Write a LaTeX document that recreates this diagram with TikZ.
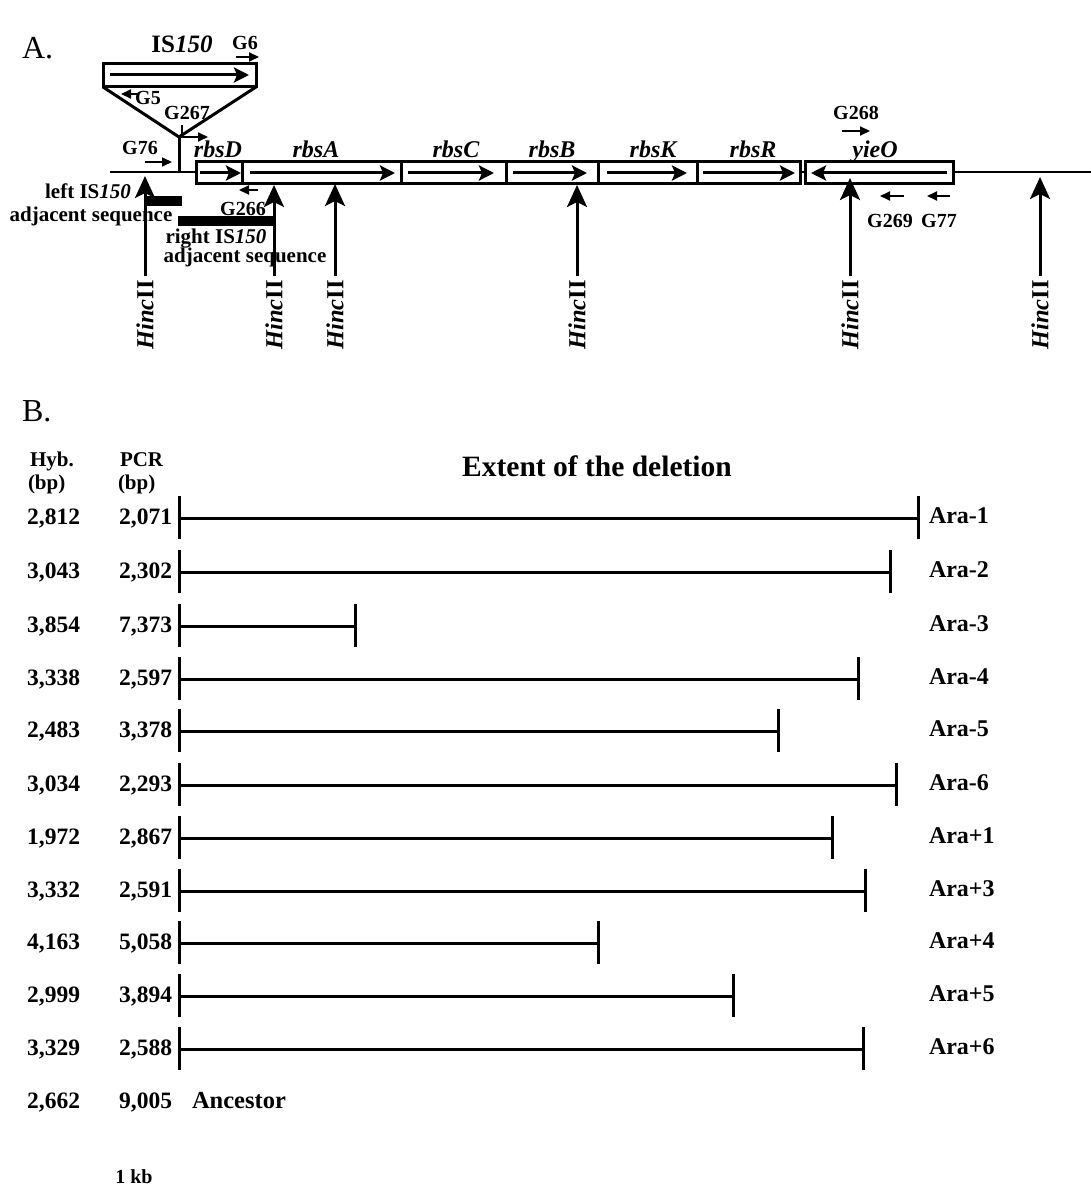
\documentclass[tikz,border=0pt]{standalone}
\usepackage{fontspec}
\setmainfont{Liberation Serif}
\usetikzlibrary{arrows.meta}
\newcommand{\fsz}[1]{\fontsize{#1}{#1}\selectfont}
\begin{document}
\begin{tikzpicture}[x=1pt,y=-1pt,
  every node/.style={inner sep=0pt, outer sep=0pt},
  sec/.style={font=\fsz{32}, anchor=base west},
  gl/.style={font=\fsz{20}\bfseries, anchor=base},
  adj/.style={font=\fsz{21}\bfseries, anchor=base},
  gene/.style={font=\fsz{24}\bfseries\itshape, anchor=base},
  hinc/.style={font=\fsz{24.5}\bfseries, rotate=90},
  gbox/.style={draw, line width=3pt, fill=white},
  garrow/.style={line width=3pt, -{Stealth[length=15pt,width=15pt,inset=3pt]}},
  hcut/.style={line width=3pt, -{Stealth[length=22pt,width=20pt,inset=5pt]}},
  primer/.style={line width=2pt, -{Triangle[length=10pt,width=9pt]}},
  chrom/.style={line width=2.6pt},
  rowline/.style={line width=3pt},
  tickline/.style={line width=3pt},
  num/.style={font=\fsz{23.5}\bfseries, anchor=base east},
  ara/.style={font=\fsz{24}\bfseries, anchor=base west},
  hdr/.style={font=\fsz{21}\bfseries, anchor=base west},
]
\useasboundingbox (0,0) rectangle (1091,1201);

% ---------------- Section A ----------------
\node[sec] (secA) at (22,59) {A.};

\coordinate (L0) at (110,172);
\coordinate (R0) at (1091,172);
\draw[chrom] (L0) -- (R0);

% IS150 insertion
\draw[gbox] (103,64) rectangle (256,87);
\coordinate (isa) at (110,75);
\coordinate (isb) at (249,75);
\draw[garrow] (isa) -- (isb);
\coordinate (triL) at (103,87);
\coordinate (triR) at (256,87);
\coordinate (apex) at (179,137);
\coordinate (stemB) at (179,172);
\draw[line width=3pt, line join=miter] (triL) -- (apex) -- (triR);
\draw[line width=3pt] (apex) -- (stemB);
\node[font=\fsz{25}\bfseries, anchor=base] (is150) at (182,53) {IS\textit{150}};

% genes
\draw[gbox] (196,162) rectangle (242,184);
\draw[gbox] (242,162) rectangle (401,184);
\draw[gbox] (401,162) rectangle (506,184);
\draw[gbox] (506,162) rectangle (598,184);
\draw[gbox] (598,162) rectangle (697,184);
\draw[gbox] (697,162) rectangle (800,184);
\draw[gbox] (805,162) rectangle (953,184);

\foreach \a/\b/\n in {200/241/D, 250/395/A, 408/494/C, 513/587/B, 607/687/K, 703/795/R, 947/811/O}{
  \coordinate (ga\n) at (\a,173);
  \coordinate (gb\n) at (\b,173);
  \draw[garrow] (ga\n) -- (gb\n);
}

\node[gene] (rbsD) at (218,158) {rbsD};
\node[gene] (rbsA) at (316,158) {rbsA};
\node[gene] (rbsC) at (456,158) {rbsC};
\node[gene] (rbsB) at (552,158) {rbsB};
\node[gene] (rbsK) at (653,158) {rbsK};
\node[gene] (rbsR) at (753,158) {rbsR};
\node[gene] (yieO) at (875,158) {yieO};

% primers
\node[gl] (G6) at (245,50) {G6};
\coordinate (g6a) at (236,57); \coordinate (g6b) at (259,57);
\draw[primer] (g6a) -- (g6b);

\node[gl] (G5) at (148,105) {G5};
\coordinate (g5a) at (139,94); \coordinate (g5b) at (121,94);
\draw[primer] (g5a) -- (g5b);

\node[gl] (G267) at (187,120) {G267};
\coordinate (g267a) at (182,125); \coordinate (g267m) at (182,137); \coordinate (g267b) at (208,137);
\draw[primer] (g267a) -- (g267m) -- (g267b);

\node[gl] (G76) at (140,155) {G76};
\coordinate (g76a) at (145,162); \coordinate (g76b) at (172,162);
\draw[primer] (g76a) -- (g76b);

\node[gl] (G268) at (856,120) {G268};
\coordinate (g268a) at (842,131); \coordinate (g268b) at (870,131);
\draw[primer] (g268a) -- (g268b);

\node[gl] (G266) at (243,215) {G266};
\coordinate (g266a) at (258,190); \coordinate (g266b) at (239,190);
\draw[primer] (g266a) -- (g266b);

\node[gl] (G269) at (890,227) {G269};
\coordinate (g269a) at (904,196); \coordinate (g269b) at (880,196);
\draw[primer] (g269a) -- (g269b);

\node[gl] (G77) at (939,227) {G77};
\coordinate (g77a) at (950,196); \coordinate (g77b) at (927,196);
\draw[primer] (g77a) -- (g77b);

% adjacent sequence bars
\fill (145,196) rectangle (182,206);
\fill (178,216) rectangle (275,226);
\node[adj] (leftIS) at (88,199) {left IS\textit{150}};
\node[adj] (leftAdj) at (91,222) {adjacent sequence};
\node[adj] (rightIS) at (216,243) {right IS\textit{150}};
\node[adj] (rightAdj) at (245,262) {adjacent sequence};

% HincII sites
\foreach \x/\t [count=\i] in {145/176, 274/185, 335/184, 577/185, 850/178, 1040/177}{
  \node[hinc] (h\i) at (\x,315) {\textit{Hinc}II};
  \coordinate (t\i) at (\x,\t);
  \draw[hcut, shorten <=4pt] (h\i.east) -- (t\i);
}

% ---------------- Section B ----------------
\node[sec] (secB) at (22,421) {B.};

\node[hdr] (hyb) at (30,466) {Hyb.};
\node[hdr] (hybbp) at (28,489) {(bp)};
\node[hdr] (pcr) at (120,466) {PCR};
\node[hdr] (pcrbp) at (118,489) {(bp)};
\node[font=\fsz{29.5}\bfseries, anchor=base] (extent) at (597,476) {Extent of the deletion};

\foreach \y/\hy/\pc/\ex/\lab [count=\i] in {
  518/2{,}812/2{,}071/918/Ara-1,
  572/3{,}043/2{,}302/890/Ara-2,
  626/3{,}854/7{,}373/355/Ara-3,
  679/3{,}338/2{,}597/858/Ara-4,
  731/2{,}483/3{,}378/778/Ara-5,
  785/3{,}034/2{,}293/896/Ara-6,
  838/1{,}972/2{,}867/832/Ara+1,
  891/3{,}332/2{,}591/865/Ara+3,
  943/4{,}163/5{,}058/598/Ara+4,
  996/2{,}999/3{,}894/733/Ara+5,
  1049/3{,}329/2{,}588/863/Ara+6}{
  \coordinate (s\i) at (179,\y);
  \coordinate (e\i) at (\ex,\y);
  \draw[rowline] (s\i) -- (e\i);
  \draw[tickline] ([yshift=22pt]s\i) -- ([yshift=-21pt]s\i);
  \draw[tickline] ([yshift=22pt]e\i) -- ([yshift=-21pt]e\i);
  \node[num] (hy\i) at (80,\y+6) {\hy};
  \node[num] (pc\i) at (172,\y+6) {\pc};
  \node[ara] (lab\i) at (929,\y+5) {\lab};
}

\node[num] (hyAnc) at (80,1108) {2,662};
\node[num] (pcAnc) at (172,1108) {9,005};
\node[font=\fsz{24.5}\bfseries, anchor=base west] (anc) at (192,1108) {Ancestor};

\node[font=\fsz{20}\bfseries, anchor=base] (kb) at (134,1183) {1 kb};
\end{tikzpicture}
\end{document}
